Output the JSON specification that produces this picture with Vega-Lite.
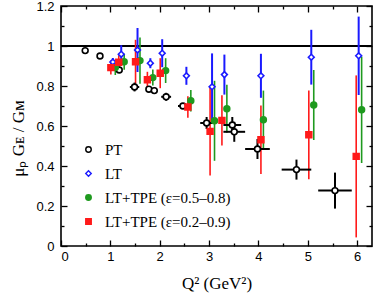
{
  "$schema": "https://vega.github.io/schema/vega-lite/v6.json",
  "width": 311,
  "height": 240,
  "autosize": "none",
  "padding": {"left": 61, "top": 6, "right": 2, "bottom": 47},
  "config": {
    "view": {"stroke": "black", "strokeWidth": 1.6},
    "axis": {
      "domain": false,
      "grid": false,
      "labelFont": "Liberation Sans",
      "labelFontSize": 13,
      "labelColor": "black",
      "tickColor": "black",
      "tickWidth": 1.3,
      "titleFont": "Liberation Serif",
      "titleFontSize": 17,
      "titleFontWeight": "normal",
      "titleColor": "black"
    }
  },
  "datasets": {
    "pts": [
      {"s": "PT", "x": 0.49, "y": 0.977, "xlo": null, "xhi": null, "ylo": null, "yhi": null},
      {"s": "PT", "x": 0.79, "y": 0.95, "xlo": null, "xhi": null, "ylo": null, "yhi": null},
      {"s": "PT", "x": 1.18, "y": 0.88, "xlo": null, "xhi": null, "ylo": null, "yhi": null},
      {"s": "PT", "x": 1.49, "y": 0.795, "xlo": 1.395, "xhi": 1.585, "ylo": 0.773, "yhi": 0.817},
      {"s": "PT", "x": 1.78, "y": 0.784, "xlo": 1.72, "xhi": 1.84, "ylo": 0.769, "yhi": 0.799},
      {"s": "PT", "x": 1.89, "y": 0.777, "xlo": 1.83, "xhi": 1.95, "ylo": 0.762, "yhi": 0.792},
      {"s": "PT", "x": 2.13, "y": 0.746, "xlo": 2.03, "xhi": 2.23, "ylo": 0.726, "yhi": 0.766},
      {"s": "PT", "x": 2.47, "y": 0.70, "xlo": 2.37, "xhi": 2.57, "ylo": 0.685, "yhi": 0.715},
      {"s": "PT", "x": 2.95, "y": 0.615, "xlo": 2.82, "xhi": 3.08, "ylo": 0.585, "yhi": 0.645},
      {"s": "PT", "x": 3.47, "y": 0.605, "xlo": 3.29, "xhi": 3.65, "ylo": 0.565, "yhi": 0.645},
      {"s": "PT", "x": 3.51, "y": 0.571, "xlo": 3.29, "xhi": 3.73, "ylo": 0.521, "yhi": 0.621},
      {"s": "PT", "x": 3.98, "y": 0.485, "xlo": 3.73, "xhi": 4.23, "ylo": 0.435, "yhi": 0.535},
      {"s": "PT", "x": 4.77, "y": 0.382, "xlo": 4.47, "xhi": 5.07, "ylo": 0.332, "yhi": 0.432},
      {"s": "PT", "x": 5.55, "y": 0.277, "xlo": 5.21, "xhi": 5.89, "ylo": 0.187, "yhi": 0.367},
      {"s": "LT", "x": 1.05, "y": 0.92, "ylo": 0.90, "yhi": 0.94},
      {"s": "LT", "x": 1.22, "y": 0.959, "ylo": 0.914, "yhi": 1.004},
      {"s": "LT", "x": 1.55, "y": 0.98, "ylo": 0.87, "yhi": 1.09},
      {"s": "LT", "x": 1.81, "y": 0.914, "ylo": 0.889, "yhi": 0.939},
      {"s": "LT", "x": 2.05, "y": 0.964, "ylo": 0.894, "yhi": 1.034},
      {"s": "LT", "x": 2.54, "y": 0.851, "ylo": 0.806, "yhi": 0.896},
      {"s": "LT", "x": 3.06, "y": 0.796, "ylo": 0.629, "yhi": 0.963},
      {"s": "LT", "x": 3.31, "y": 0.857, "ylo": 0.757, "yhi": 0.957},
      {"s": "LT", "x": 4.05, "y": 0.851, "ylo": 0.741, "yhi": 0.961},
      {"s": "LT", "x": 5.07, "y": 0.944, "ylo": 0.807, "yhi": 1.081},
      {"s": "LT", "x": 6.03, "y": 0.951, "ylo": 0.755, "yhi": 1.147},
      {"s": "G", "x": 1.10, "y": 0.892, "ylo": 0.855, "yhi": 0.929},
      {"s": "G", "x": 1.28, "y": 0.921, "ylo": 0.881, "yhi": 0.961},
      {"s": "G", "x": 1.60, "y": 0.927, "ylo": 0.811, "yhi": 1.043},
      {"s": "G", "x": 1.86, "y": 0.842, "ylo": 0.802, "yhi": 0.882},
      {"s": "G", "x": 2.12, "y": 0.877, "ylo": 0.815, "yhi": 0.939},
      {"s": "G", "x": 2.63, "y": 0.726, "ylo": 0.672, "yhi": 0.78},
      {"s": "G", "x": 3.11, "y": 0.626, "ylo": 0.426, "yhi": 0.826},
      {"s": "G", "x": 3.36, "y": 0.686, "ylo": 0.566, "yhi": 0.806},
      {"s": "G", "x": 4.10, "y": 0.631, "ylo": 0.485, "yhi": 0.777},
      {"s": "G", "x": 5.12, "y": 0.705, "ylo": 0.53, "yhi": 0.88},
      {"s": "G", "x": 6.09, "y": 0.681, "ylo": 0.415, "yhi": 0.947},
      {"s": "R", "x": 1.01, "y": 0.892, "ylo": 0.857, "yhi": 0.927},
      {"s": "R", "x": 1.17, "y": 0.919, "ylo": 0.884, "yhi": 0.954},
      {"s": "R", "x": 1.51, "y": 0.921, "ylo": 0.811, "yhi": 1.031},
      {"s": "R", "x": 1.75, "y": 0.831, "ylo": 0.791, "yhi": 0.871},
      {"s": "R", "x": 2.01, "y": 0.864, "ylo": 0.789, "yhi": 0.939},
      {"s": "R", "x": 2.57, "y": 0.695, "ylo": 0.641, "yhi": 0.749},
      {"s": "R", "x": 3.02, "y": 0.573, "ylo": 0.353, "yhi": 0.793},
      {"s": "R", "x": 3.26, "y": 0.628, "ylo": 0.502, "yhi": 0.754},
      {"s": "R", "x": 4.05, "y": 0.531, "ylo": 0.36, "yhi": 0.702},
      {"s": "R", "x": 5.02, "y": 0.556, "ylo": 0.334, "yhi": 0.778},
      {"s": "R", "x": 5.98, "y": 0.448, "ylo": 0.043, "yhi": 0.853}
    ]
  },
  "data": {"name": "pts"},
  "resolve": {"axis": {"x": "independent", "y": "independent"}},
  "layer": [
    {
      "mark": {"type": "rule", "color": "black", "strokeWidth": 1.2},
      "encoding": {"y": {"datum": 1, "type": "quantitative", "axis": null}}
    },
    {
      "transform": [{"filter": "datum.s === 'R'"}],
      "mark": {"type": "rule", "color": "#ff1a1a", "strokeWidth": 1.6},
      "encoding": {
        "x": {"field": "x", "type": "quantitative", "scale": {"domain": [0, 6.3], "nice": false, "zero": false},
          "axis": {"orient": "top", "title": null, "labels": false,
            "values": [0, 0.5, 1, 1.5, 2, 2.5, 3, 3.5, 4, 4.5, 5, 5.5, 6],
            "tickSize": {"condition": {"test": "datum.value % 1 === 0", "value": -6}, "value": -3}}},
        "y": {"field": "ylo", "type": "quantitative", "scale": {"domain": [0, 1.2], "nice": false, "zero": false},
          "axis": {"orient": "right", "title": null, "labels": false,
            "values": [0, 0.1, 0.2, 0.3, 0.4, 0.5, 0.6, 0.7, 0.8, 0.9, 1, 1.1, 1.2],
            "tickSize": {"condition": {"test": "abs(datum.value*5 - round(datum.value*5)) < 0.01", "value": -6}, "value": -3}}},
        "y2": {"field": "yhi"}
      }
    },
    {
      "transform": [{"filter": "datum.s === 'G'"}],
      "mark": {"type": "rule", "color": "#1f9a1f", "strokeWidth": 1.6},
      "encoding": {
        "x": {"field": "x", "type": "quantitative", "axis": null},
        "y": {"field": "ylo", "type": "quantitative", "axis": null},
        "y2": {"field": "yhi"}
      }
    },
    {
      "transform": [{"filter": "datum.s === 'LT'"}],
      "mark": {"type": "rule", "color": "#1a1aff", "strokeWidth": 2},
      "encoding": {
        "x": {"field": "x", "type": "quantitative", "axis": null},
        "y": {"field": "ylo", "type": "quantitative", "axis": null},
        "y2": {"field": "yhi"}
      }
    },
    {
      "transform": [{"filter": "datum.s === 'PT' && datum.ylo != null"}],
      "mark": {"type": "rule", "color": "black", "strokeWidth": 2},
      "encoding": {
        "x": {"field": "x", "type": "quantitative", "axis": null},
        "y": {"field": "ylo", "type": "quantitative", "axis": null},
        "y2": {"field": "yhi"}
      }
    },
    {
      "transform": [{"filter": "datum.s === 'PT' && datum.xlo != null"}],
      "mark": {"type": "rule", "color": "black", "strokeWidth": 2},
      "encoding": {
        "x": {"field": "xlo", "type": "quantitative", "axis": null},
        "x2": {"field": "xhi"},
        "y": {"field": "y", "type": "quantitative", "axis": null}
      }
    },
    {
      "mark": {"type": "point", "strokeWidth": 1.6, "opacity": 1, "size": 34},
      "encoding": {
        "x": {"field": "x", "type": "quantitative",
          "axis": {"orient": "bottom", "title": "Q² (GeV²)", "titlePadding": 12,
            "values": [0, 0.5, 1, 1.5, 2, 2.5, 3, 3.5, 4, 4.5, 5, 5.5, 6],
            "format": "~g",
            "labelExpr": "datum.value % 1 === 0 ? datum.label : ''",
            "labelPadding": 10,
            "tickSize": {"condition": {"test": "datum.value % 1 === 0", "value": -6}, "value": -3}}},
        "y": {"field": "y", "type": "quantitative",
          "axis": {"orient": "left", "title": "μₚ Gᴇ / Gᴍ", "titlePadding": 8, "titleY": 132,
            "values": [0, 0.1, 0.2, 0.3, 0.4, 0.5, 0.6, 0.7, 0.8, 0.9, 1, 1.1, 1.2],
            "format": "~g",
            "labelExpr": "abs(datum.value*5 - round(datum.value*5)) < 0.01 ? datum.label : ''",
            "labelPadding": 13,
            "tickSize": {"condition": {"test": "abs(datum.value*5 - round(datum.value*5)) < 0.01", "value": -6}, "value": -3}}},
        "shape": {"field": "s", "type": "nominal",
          "scale": {"domain": ["PT", "LT", "G", "R"], "range": ["circle", "diamond", "circle", "square"]},
          "legend": {"orient": "none", "legendX": 20, "legendY": 136, "title": null,
            "labelExpr": "datum.value === 'PT' ? 'PT' : datum.value === 'LT' ? 'LT' : datum.value === 'G' ? 'LT+TPE  (ε=0.5–0.8)' : 'LT+TPE  (ε=0.2–0.9)'",
            "labelFont": "Liberation Serif", "labelFontSize": 15, "labelColor": "black",
            "labelLimit": 300, "rowPadding": 8, "labelOffset": 9, "padding": 0,
            "symbolSize": 30, "symbolStrokeWidth": 1.4}},
        "fill": {"field": "s", "type": "nominal",
          "scale": {"domain": ["PT", "LT", "G", "R"], "range": ["white", "white", "#1f9a1f", "#ff1a1a"]}},
        "stroke": {"field": "s", "type": "nominal",
          "scale": {"domain": ["PT", "LT", "G", "R"], "range": ["black", "#1a1aff", "#1f9a1f", "#ff1a1a"]}}
      }
    }
  ]
}
